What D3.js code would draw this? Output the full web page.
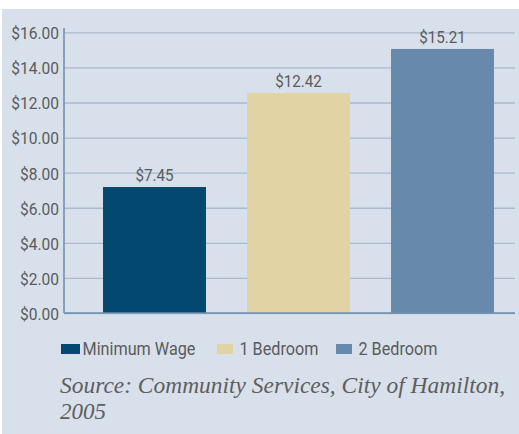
<!DOCTYPE html>
<html>
<head>
<meta charset="utf-8">
<script src="https://cdn.jsdelivr.net/npm/d3@7"></script>
<style>
  body { margin: 0; background: #fff; }
  svg { display: block; }
</style>
</head>
<body>
<div id="chart"></div>
<script>
// data
var categories = ['Minimum Wage', '1 Bedroom', '2 Bedroom'];
// bar heights as drawn in the picture (they sit a bit off the printed labels)
var barValues = [7.18, 12.54, 15.05];
var valueLabels = ['$7.45', '$12.42', '$15.21'];
var colors = ['#03496f', '#e2d3a5', '#6689ac'];
var yTicks = [0, 2, 4, 6, 8, 10, 12, 14, 16];
var sourceLines = ['Source: Community Services, City of Hamilton,', '2005'];

var W = 519, H = 434;
var axisX = 64, plotRight = 515;
var y0 = 313, yTop = 32.3;
var sans = 'Roboto, "Liberation Sans", sans-serif';

// squeeze text horizontally to mimic the condensed face of the original
function condense(sel, factor) {
  sel.each(function() {
    var len = this.getComputedTextLength();
    d3.select(this)
      .attr('textLength', len * factor)
      .attr('lengthAdjust', 'spacingAndGlyphs');
  });
}

var svg = d3.select('#chart').append('svg')
    .attr('width', W)
    .attr('height', H);

// panel background
svg.append('rect')
    .attr('x', 2).attr('y', 9)
    .attr('width', W - 2).attr('height', H - 9)
    .attr('fill', '#d8e0eb');

var y = d3.scaleLinear()
    .domain([0, 16])
    .range([y0, yTop]);

var x = d3.scaleBand()
    .domain(categories)
    .range([82.5, 514.5])
    .paddingInner(0.285)
    .paddingOuter(0.1425);

// gridlines + tick labels
var yAxis = svg.append('g')
    .attr('transform', 'translate(' + axisX + ',0)')
    .call(d3.axisLeft(y)
        .tickValues(yTicks)
        .tickSize(-(plotRight - axisX))
        .tickPadding(5)
        .tickFormat(function(d) { return '$' + d.toFixed(2); }));

yAxis.select('.domain').remove();
yAxis.selectAll('.tick line')
    .attr('stroke', '#a6bad0')
    .attr('stroke-width', 1.3);
yAxis.selectAll('.tick text')
    .attr('fill', '#5b5b5b')
    .attr('dy', '0.4em')
    .style('font-family', sans)
    .style('font-size', '16px')
    .call(condense, 0.97);

// bars
svg.selectAll('rect.bar')
    .data(categories)
    .enter().append('rect')
    .attr('class', 'bar')
    .attr('x', function(d) { return x(d); })
    .attr('width', x.bandwidth())
    .attr('y', function(d, i) { return y(barValues[i]); })
    .attr('height', function(d, i) { return y0 - y(barValues[i]); })
    .attr('fill', function(d, i) { return colors[i]; });

// value labels
svg.selectAll('text.val')
    .data(categories)
    .enter().append('text')
    .attr('class', 'val')
    .attr('x', function(d) { return x(d) + x.bandwidth() / 2; })
    .attr('y', function(d, i) { return y(barValues[i]) - 6; })
    .attr('text-anchor', 'middle')
    .attr('fill', '#5b5b5b')
    .style('font-family', sans)
    .style('font-size', '16.5px')
    .text(function(d, i) { return valueLabels[i]; })
    .call(condense, 0.92);

// axis lines
svg.append('line')
    .attr('x1', axisX).attr('x2', axisX)
    .attr('y1', 28).attr('y2', y0)
    .attr('stroke', '#6d8cae').attr('stroke-width', 1.5);
svg.append('line')
    .attr('x1', axisX).attr('x2', plotRight)
    .attr('y1', y0).attr('y2', y0)
    .attr('stroke', '#6d8cae').attr('stroke-width', 1.6);

// legend
var legendX = [61, 217, 336];
var legend = svg.selectAll('g.legend')
    .data(categories)
    .enter().append('g')
    .attr('class', 'legend')
    .attr('transform', function(d, i) { return 'translate(' + legendX[i] + ',344)'; });

legend.append('rect')
    .attr('width', function(d, i) { return i == 0 ? 19 : 16; })
    .attr('height', 10)
    .attr('fill', function(d, i) { return colors[i]; });

legend.append('text')
    .attr('x', function(d, i) { return i == 0 ? 21.5 : 22.5; })
    .attr('y', 10.5)
    .attr('fill', '#5b5b5b')
    .style('font-family', sans)
    .style('font-size', '18px')
    .text(function(d) { return d; })
    .call(condense, 0.9);

// source note
svg.selectAll('text.source')
    .data(sourceLines)
    .enter().append('text')
    .attr('class', 'source')
    .attr('x', 60)
    .attr('y', function(d, i) { return 393 + i * 26; })
    .attr('fill', '#5e5e5e')
    .style('font-family', '"Liberation Serif", serif')
    .style('font-style', 'italic')
    .style('font-size', '23px')
    .text(function(d) { return d; });

var src0 = svg.select('text.source').node();
d3.select(src0)
    .attr('textLength', 445)
    .attr('lengthAdjust', 'spacingAndGlyphs');
</script>
</body>
</html>
